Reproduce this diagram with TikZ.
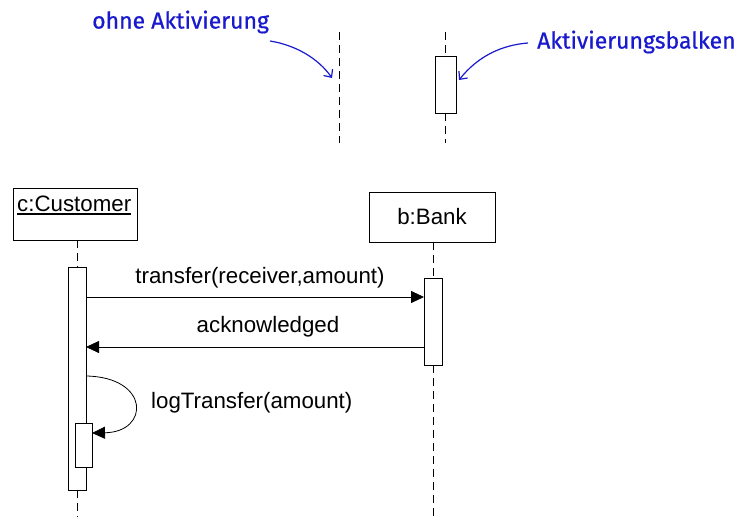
\documentclass[tikz,border=0pt]{standalone}
\usepackage{fontspec}
\setmainfont{Liberation Sans}
\newfontfamily\handfont{Fira Sans}[FakeBold=0.7]
\usetikzlibrary{arrows.meta}
\definecolor{handblue}{RGB}{25,25,205}
\begin{document}
\begin{tikzpicture}[x=1pt,y=-1pt,
  life/.style={draw=black, line width=0.8pt, dash pattern=on 8pt off 5pt},
  bar/.style={draw=black, fill=white, line width=0.8pt, inner sep=0pt, outer sep=0pt},
  obj/.style={draw=black, fill=white, line width=0.8pt, inner sep=0pt, outer sep=0pt},
  msg/.style={draw=black, line width=0.8pt, -{Triangle[length=13pt,width=12pt]}},
  lbl/.style={font=\fontsize{22.3}{26}\selectfont, inner sep=0pt},
  hand/.style={font=\handfont\fontsize{23}{27}\selectfont, text=handblue, inner sep=0pt},
  harrow/.style={draw=handblue, line width=1.2pt, -{Straight Barb[length=6pt,width=11pt]}}]
\path[use as bounding box] (0,0) rectangle (742,527);

% ---- legend part ----
\coordinate (l1t) at (339,32);
\coordinate (l1b) at (339,143);
\draw[life] (l1t) -- (l1b);
\node[bar, minimum width=21pt, minimum height=57pt] (a0) at (445.5,84.5) {};
\coordinate (l2t) at (445.5,32);
\coordinate (l2b) at (445.5,143);
\draw[life] (l2t) -- (a0.north);
\draw[life] (a0.south) -- (l2b);

\node[hand, anchor=west] (t1) at (92,22) {ohne Aktivierung};
\coordinate (h1s) at (270,41);
\coordinate (h1e) at (332,78);
\draw[harrow] (h1s) .. controls (295,45) and (318,58) .. (h1e);

\node[hand, anchor=west] (t2) at (537,42) {Aktivierungsbalken};
\coordinate (h2s) at (528,43);
\coordinate (h2e) at (459,80);
\draw[harrow] (h2s) .. controls (502,45) and (478,56) .. (h2e);

% ---- objects ----
\node[obj, minimum width=124pt, minimum height=52pt] (cust) at (75,214) {};
\node[lbl, anchor=west] (custlbl) at (17,204) {c:Customer};
\draw[line width=1.6pt] ([yshift=-2pt]custlbl.south west) -- ([yshift=-2pt]custlbl.south east);

\node[obj, minimum width=126pt, minimum height=50pt] (bank) at (432,217) {};
\node[lbl] (banklbl) at (bank.center) {b:Bank};

% ---- activation bars ----
\node[bar, minimum width=18pt, minimum height=223pt] (cbar) at (77,378.5) {};
\node[bar, minimum width=18pt, minimum height=87pt] (bbar) at (433,321.5) {};

\draw[life] (cbar.north |- cust.south) -- (cbar.north);
\coordinate (cend) at (77,517);
\draw[life] (cbar.south) -- (cend);
\draw[life] (bbar.north |- bank.south) -- (bbar.north);
\coordinate (bend) at (433,517);
\draw[life] (bbar.south) -- (bend);

\node[bar, minimum width=17pt, minimum height=44pt] (ibar) at (83.5,445) {};

% ---- messages ----
\coordinate (m1) at (0,297);
\draw[msg] (cbar.east |- m1) -- (bbar.west |- m1);
\node[lbl] (ml1) at (260,278) {transfer(receiver,amount)};

\coordinate (m2) at (0,347);
\draw[msg] (bbar.west |- m2) -- (cbar.east |- m2);
\node[lbl] (ml2) at (268,327) {acknowledged};

\coordinate (m3a) at (0,376);
\coordinate (m3b) at (0,433);
\draw[msg] (cbar.east |- m3a) .. controls (150,377) and (150,432) .. (ibar.east |- m3b);
\node[lbl, anchor=west] (ml3) at (151,403) {logTransfer(amount)};
\end{tikzpicture}
\end{document}
